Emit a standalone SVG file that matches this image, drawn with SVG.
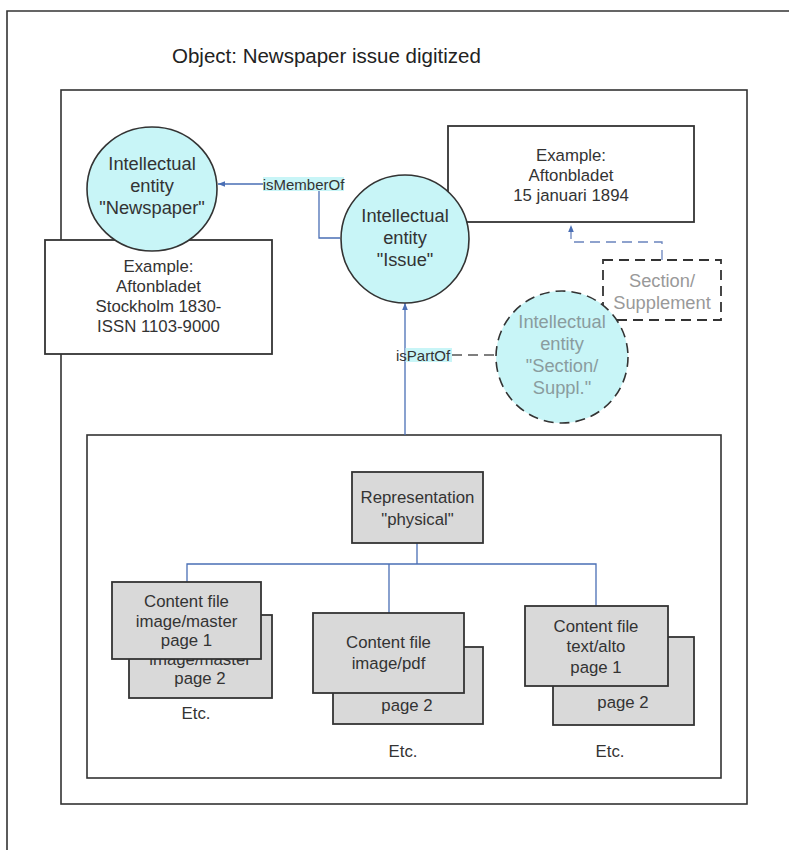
<svg xmlns="http://www.w3.org/2000/svg" width="789" height="850" viewBox="0 0 789 850">
<defs>
<style>
text{font-family:"Liberation Sans",Arial,sans-serif;fill:#333;text-anchor:middle}
.t{font-size:20.5px;text-anchor:start;fill:#222}
.ex{font-size:16.8px}
.ie{font-size:18.3px}
.gr{font-size:18.3px;fill:#8a9c9e}
.sg{font-size:18.3px;fill:#999}
.lb{font-size:15px}
.frame{fill:none;stroke:#333;stroke-width:1.6}
.box{fill:#fff;stroke:#333;stroke-width:1.8}
.card{fill:#d9d9d9;stroke:#333;stroke-width:1.8}
.ent{fill:#c8f5f7;stroke:#333;stroke-width:1.6}
.dash{stroke-dasharray:10 6}
.con{fill:none;stroke:#4a6fb5;stroke-width:1.3}
.lbg{fill:#c8f5f7}
</style>
<marker id="ah" viewBox="0 0 10 10" refX="10" refY="5" markerWidth="7" markerHeight="7" markerUnits="userSpaceOnUse" orient="auto">
<path d="M0,1 L10,5 L0,9 Z" fill="#4a6fb5"/>
</marker>
</defs>
<rect width="789" height="850" fill="#fff"/>
<path class="frame" d="M7,850 V11 H789"/>
<text class="t" x="172" y="63">Object: Newspaper issue digitized</text>
<rect class="frame" x="61" y="90" width="686" height="714"/>
<rect class="frame" x="87" y="435" width="634" height="343"/>

<g id="connectors">
<path class="con" d="M340,238 H319 V184 H218" marker-end="url(#ah)"/>
<path class="con" d="M405,435 V303" marker-end="url(#ah)"/>
<path class="con dash" d="M662,260 V242 H571 V225" style="stroke:#6a84bd" marker-end="url(#ah)"/>
<path class="con dash" d="M452,355 H496" style="stroke:#555"/>
<path class="con" d="M417,543 V564 M187,582 V564 H596 V606 M389,564 V613"/>
</g>

<g id="newspaper-example">
<rect class="box" x="45" y="240" width="227" height="114"/>
<text class="ex" x="158.5" y="272">Example:</text>
<text class="ex" x="158.5" y="292">Aftonbladet</text>
<text class="ex" x="158.5" y="312">Stockholm 1830-</text>
<text class="ex" x="158.5" y="332">ISSN 1103-9000</text>
</g>
<g id="entity-newspaper">
<ellipse class="ent" cx="152" cy="189" rx="65" ry="62"/>
<text class="ie" x="152" y="170">Intellectual</text>
<text class="ie" x="152" y="192">entity</text>
<text class="ie" x="152" y="214">"Newspaper"</text>
</g>

<g id="issue-example">
<rect class="box" x="448" y="126" width="246" height="96"/>
<text class="ex" x="571" y="161">Example:</text>
<text class="ex" x="571" y="181">Aftonbladet</text>
<text class="ex" x="571" y="201">15 januari 1894</text>
</g>
<g id="entity-issue">
<circle class="ent" cx="405" cy="239" r="64"/>
<text class="ie" x="405" y="221.5">Intellectual</text>
<text class="ie" x="405" y="243.5">entity</text>
<text class="ie" x="405" y="265.5">"Issue"</text>
</g>

<g id="label-ismemberof">
<rect class="lbg" x="263" y="177" width="81" height="14"/>
<text class="lb" x="303.5" y="189.5">isMemberOf</text>
</g>
<g id="label-ispartof">
<rect class="lbg" x="405.5" y="348" width="46.5" height="14"/>
<text class="lb" x="396" y="360.5" style="text-anchor:start">isPartOf</text>
</g>

<g id="section-supplement">
<rect class="box dash" x="603" y="260" width="118" height="60"/>
<text class="sg" x="662" y="287">Section/</text>
<text class="sg" x="662" y="309">Supplement</text>
</g>
<g id="entity-section">
<circle class="ent dash" cx="562" cy="357" r="66"/>
<text class="gr" x="562" y="327.5">Intellectual</text>
<text class="gr" x="562" y="349.5">entity</text>
<text class="gr" x="562" y="371.5">"Section/</text>
<text class="gr" x="562" y="393.5">Suppl."</text>
</g>

<g id="representation">
<rect class="card" x="352" y="472" width="131" height="71"/>
<text class="ex" x="417.5" y="503">Representation</text>
<text class="ex" x="417.5" y="525">"physical"</text>
</g>

<g id="content-master">
<rect class="card" x="129" y="615" width="143" height="83"/>
<text class="ex" x="200" y="665">image/master</text>
<text class="ex" x="200" y="684">page 2</text>
<rect class="card" x="112" y="582" width="149" height="77"/>
<text class="ex" x="186.5" y="607">Content file</text>
<text class="ex" x="186.5" y="627">image/master</text>
<text class="ex" x="186.5" y="646">page 1</text>
<text class="ex" x="196" y="719">Etc.</text>
</g>

<g id="content-pdf">
<rect class="card" x="333" y="647" width="150" height="77"/>
<text class="ex" x="407" y="711">page 2</text>
<rect class="card" x="313" y="613" width="151" height="80"/>
<text class="ex" x="388.5" y="648">Content file</text>
<text class="ex" x="388.5" y="669">image/pdf</text>
<text class="ex" x="403" y="757">Etc.</text>
</g>

<g id="content-alto">
<rect class="card" x="553" y="637" width="141" height="88"/>
<text class="ex" x="623" y="708">page 2</text>
<rect class="card" x="525" y="606" width="143" height="80"/>
<text class="ex" x="596" y="632">Content file</text>
<text class="ex" x="596" y="652">text/alto</text>
<text class="ex" x="596" y="673">page 1</text>
<text class="ex" x="610" y="757">Etc.</text>
</g>
</svg>
